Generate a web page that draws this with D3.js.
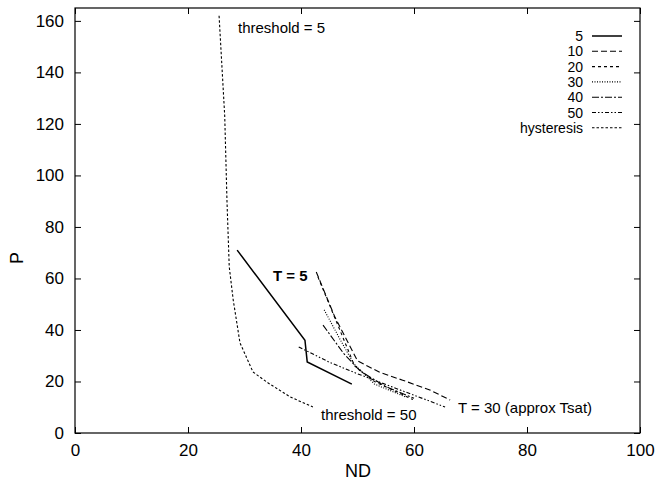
<!DOCTYPE html>
<html>
<head>
<meta charset="utf-8">
<script src="https://cdn.jsdelivr.net/npm/d3@7"></script>
<style>
  body { margin: 0; background: #fff; }
  svg text { font-family: "Liberation Sans", Arial, sans-serif; fill: #000; }
</style>
</head>
<body>
<svg id="chart" width="661" height="483"></svg>
<script>
// Tick values
const xTicks = [0, 20, 40, 60, 80, 100];
const yTicks = [0, 20, 40, 60, 80, 100, 120, 140, 160];

// Series names (legend order)
const seriesNames = ["5", "10", "20", "30", "40", "50", "hysteresis"];

// Points [ND, P]
const s5 = [[28.7, 71], [40.7, 36], [41.1, 27.6], [49, 19]];
const s10 = [[42.7, 62.5], [46, 45], [50, 28], [54, 23.5], [58, 20.5], [62.8, 16.7], [66.4, 12.8]];
const s20 = [[43, 60.6], [46.5, 42], [49.5, 26], [53, 20], [59.8, 13]];
const s30 = [[44.1, 47.8], [47, 36], [49.3, 27], [53, 19], [58.5, 14]];
const s40 = [[43.9, 41.9], [47.5, 31], [50.5, 24], [55, 18], [60, 13.5]];
const s50 = [[39.6, 33.4], [45, 27.5], [50, 23], [56, 18], [65.5, 10.1]];
const hyst = [[25.5, 162], [26.5, 123], [26.9, 90], [27.3, 64.5], [28, 51.7], [29.2, 35], [31.5, 23.7], [34.2, 19.4], [38.1, 14], [42.1, 10.1]];

const seriesData = [s5, s10, s20, s30, s40, s50, hyst];
const dashes = ["none", "6,3", "3,3", "1,1.5", "7,2,2,2", "4,2,1.5,2,1.5,2", "2.5,2"];
const widths = [1.5, 1.1, 1.1, 1.1, 1.1, 1.1, 1.1];

const margin = { top: 8, right: 21, bottom: 50, left: 75 };
const width = 661 - margin.left - margin.right;
const height = 483 - margin.top - margin.bottom;

const svg = d3.select("#chart");
const g = svg.append("g").attr("transform", `translate(${margin.left},${margin.top})`);

const x = d3.scaleLinear().domain([0, 100]).range([0, width]);
const y = d3.scaleLinear().domain([0, 165]).range([height, 0]);

// frame
g.append("rect")
    .attr("width", width).attr("height", height)
    .attr("fill", "none").attr("stroke", "#000").attr("stroke-width", 1.2);

// axes with inward ticks
const tl = 6;
g.append("g").attr("transform", `translate(0,${height})`)
    .call(d3.axisBottom(x).tickValues(xTicks).tickSize(-tl).tickPadding(tl + 5))
    .call(a => a.select(".domain").remove())
    .selectAll("text").style("font-size", "17px");
g.append("g")
    .call(d3.axisTop(x).tickValues(xTicks).tickSize(-tl).tickFormat(""))
    .call(a => a.select(".domain").remove());
g.append("g")
    .call(d3.axisLeft(y).tickValues(yTicks).tickSize(-tl).tickPadding(tl + 5))
    .call(a => a.select(".domain").remove())
    .selectAll("text").style("font-size", "17px");
g.append("g").attr("transform", `translate(${width},0)`)
    .call(d3.axisRight(y).tickValues(yTicks).tickSize(-tl).tickFormat(""))
    .call(a => a.select(".domain").remove());

// axis titles
svg.append("text").attr("x", 358).attr("y", 477).attr("text-anchor", "middle")
    .style("font-size", "18px").text("ND");
svg.append("text").attr("transform", "translate(23,258) rotate(-90)").attr("text-anchor", "middle")
    .style("font-size", "18px").text("P");

// lines
const line = d3.line().x(d => x(d[0])).y(d => y(d[1]));
g.selectAll(".series")
    .data(seriesData)
    .join("path")
    .attr("class", "series")
    .attr("d", line)
    .attr("fill", "none")
    .attr("stroke", "#000")
    .attr("stroke-width", (d, i) => widths[i])
    .attr("stroke-dasharray", (d, i) => dashes[i]);

// legend
const leg = svg.append("g");
seriesNames.forEach((name, i) => {
    const ly = 36 + i * 15.3;
    leg.append("text").attr("x", 583).attr("y", ly + 5).attr("text-anchor", "end")
        .style("font-size", "14px").text(name);
    leg.append("line").attr("x1", 592).attr("x2", 622).attr("y1", ly).attr("y2", ly)
        .attr("stroke", "#000").attr("stroke-width", widths[i])
        .attr("stroke-dasharray", dashes[i]);
});

// annotations
svg.append("text").attr("x", 238).attr("y", 33).style("font-size", "15px").text("threshold = 5");
svg.append("text").attr("x", 321).attr("y", 420).style("font-size", "15px").text("threshold = 50");
svg.append("text").attr("x", 273).attr("y", 281).style("font-size", "15px").style("font-weight", "bold").text("T = 5");
svg.append("text").attr("x", 458).attr("y", 413).style("font-size", "15px").text("T = 30 (approx Tsat)");
</script>
</body>
</html>
